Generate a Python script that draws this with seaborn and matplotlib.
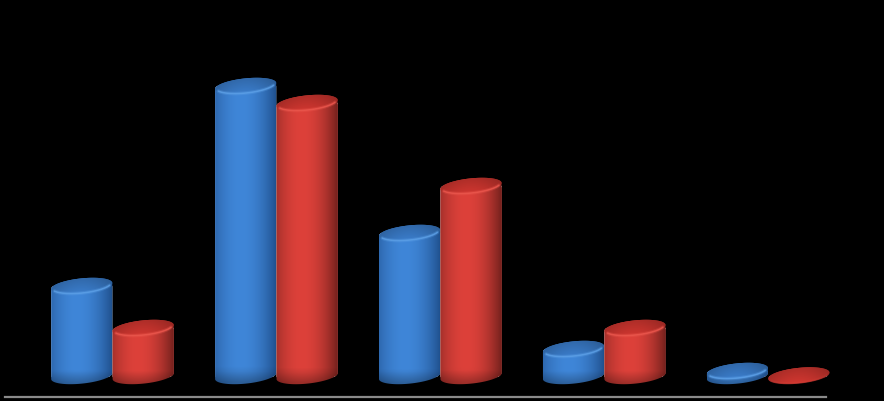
import numpy as np
import pandas as pd
import seaborn as sns
import matplotlib
matplotlib.use('Agg')
import matplotlib.pyplot as plt
from matplotlib.path import Path
import matplotlib.colors as mcolors

# values (no labels are shown on the chart)
categories = ['A', 'B', 'C', 'D', 'E']
blue_values = [90, 290, 143, 27, 5]
red_values = [48, 273, 190, 48, 0.5]

blue = {'base': '#3a78c2', 'dark': '#1f4f8c', 'light': '#3f86d8', 'top': '#3673bb', 'rim': '#5fa3ea'}
red = {'base': '#c9362f', 'dark': '#74211d', 'light': '#dd413a', 'top': '#bf322c', 'rim': '#ee5a50'}

df = pd.DataFrame({
    'category': categories * 2,
    'value': blue_values + red_values,
    'series': ['blue'] * 5 + ['red'] * 5,
})

sns.set_theme(style='dark', rc={'axes.facecolor': 'black', 'figure.facecolor': 'black'})
fig = plt.figure(figsize=(8.84, 4.01), dpi=100)
ax = fig.add_axes([0, 0, 1, 1])

sns.barplot(data=df, x='category', y='value', hue='series',
            palette={'blue': blue['base'], 'red': red['base']},
            width=0.75, gap=0, saturation=1, legend=False, ax=ax)

# group centres sit about 164 px apart, base of the cylinders at y=376 px
xlim = (-0.686, 4.707)
ylim = (-25, 376)
ax.set_xlim(xlim)
ax.set_ylim(ylim)
px_per_unit = 884 / (xlim[1] - xlim[0])

TILT = np.deg2rad(6)
MINOR = 7.6


def ellipse(cx, cy, half_w, t):
    # tilted ellipse, x back in category units
    ex = half_w * np.cos(t) * np.cos(TILT) - MINOR * np.sin(t) * np.sin(TILT)
    ey = half_w * np.cos(t) * np.sin(TILT) + MINOR * np.sin(t) * np.cos(TILT)
    return cx + ex / px_per_unit, cy + ey


def rgb(c):
    return np.array(mcolors.to_rgb(c))


def draw_cylinder(bar, colors, z):
    w = bar.get_width()
    cx = bar.get_x() + w / 2
    h = bar.get_height()
    half_w = w * px_per_unit / 2

    # outline of the side: lower half of the bottom, upper half of the top
    bx, by = ellipse(cx, 0, half_w, np.linspace(np.pi, 2 * np.pi, 60))
    tx, ty = ellipse(cx, h, half_w, np.linspace(0, np.pi, 60))
    outline = Path(np.column_stack([np.r_[bx, tx], np.r_[by, ty]]))
    bar.set_clip_path(outline, transform=ax.transData)
    bar.set_zorder(z)

    # side shading, dark at both edges, brightest left of the middle
    u = np.linspace(0, 1, 80)
    f = 1 - np.clip(np.abs(u - 0.42) / 0.58, 0, 1) ** 2.0
    side = rgb(colors['dark']) + (rgb(colors['light']) - rgb(colors['dark'])) * f[:, None]
    v = np.linspace(0, 1, 60)
    extent_y = (-14, h + 14)
    y_pos = extent_y[1] + (extent_y[0] - extent_y[1]) * v
    fade = 1 - 0.3 * np.clip(1 - (y_pos + 9) / 14, 0, 1)
    side_img = np.clip(side[None, :, :] * fade[:, None, None], 0, 1)
    im = ax.imshow(side_img, extent=(cx - w / 2, cx + w / 2, extent_y[0], extent_y[1]),
                   aspect='auto', interpolation='bilinear', zorder=z + 0.1)
    im.set_clip_path(outline, transform=ax.transData)

    # top face, a bit darker along the far rim
    ex, ey = ellipse(cx, h, half_w, np.linspace(0, 2 * np.pi, 120))
    face = Path(np.column_stack([ex, ey]))
    top = rgb(colors['top'])
    grad = np.linspace(0.88, 1.12, 30)[:, None, None] * np.ones((30, 40, 1))
    side_fall = 0.85 + 0.15 * np.sin(np.linspace(0, np.pi, 40))
    top_img = np.clip(top[None, None, :] * grad * side_fall[None, :, None], 0, 1)
    im2 = ax.imshow(top_img[::1], extent=(cx - w / 2, cx + w / 2, h - 11, h + 11),
                    aspect='auto', interpolation='bilinear', zorder=z + 0.2)
    im2.set_clip_path(face, transform=ax.transData)

    # light rim along the near edge of the top
    rx, ry = ellipse(cx, h + 0.6, half_w * 0.97, np.linspace(1.12 * np.pi, 1.88 * np.pi, 50))
    strength = min(1, h / 5)
    ax.plot(rx, ry, color=colors['rim'], lw=2.6, alpha=0.28 * strength, zorder=z + 0.3, solid_capstyle='round')
    ax.plot(rx, ry, color=colors['rim'], lw=1.1, alpha=0.75 * strength, zorder=z + 0.4, solid_capstyle='round')


n = len(categories)
for i, bar in enumerate(ax.patches[:2 * n]):
    colors = blue if i < n else red
    draw_cylinder(bar, colors, 2 + (i % n) * 2 + (1 if i >= n else 0))

ax.set_xlim(xlim)
ax.set_ylim(ylim)

# grey axis line under the cylinders
for s in ['top', 'left', 'right']:
    ax.spines[s].set_visible(False)
ax.spines['bottom'].set_position(('data', -21))
ax.spines['bottom'].set_bounds(xlim[0] + 5 / px_per_unit, xlim[0] + 826 / px_per_unit)
ax.spines['bottom'].set_color('#8a8a8a')
ax.spines['bottom'].set_linewidth(1.6)
ax.set_xticks([])
ax.set_yticks([])
ax.set_xlabel('')
ax.set_ylabel('')
ax.grid(False)

fig.savefig('out.png', dpi=100, facecolor='black')
